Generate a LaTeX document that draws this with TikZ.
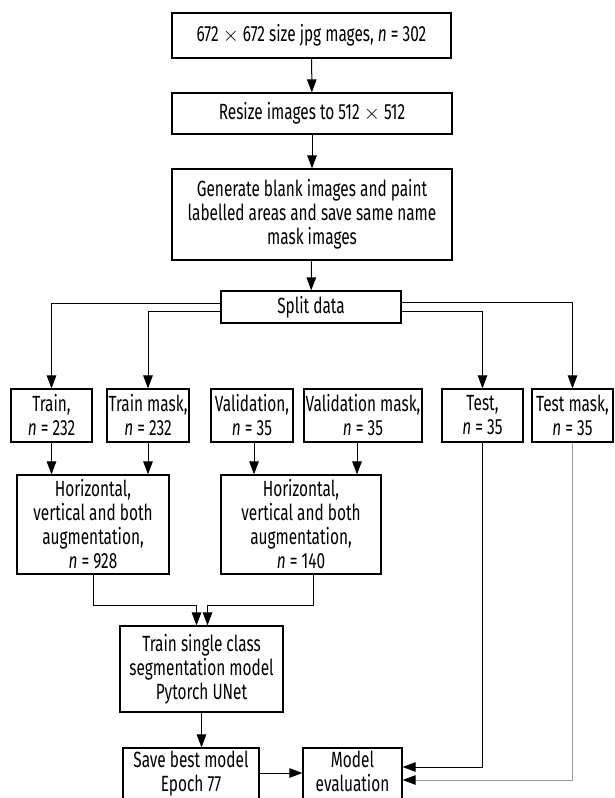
\documentclass[tikz,border=0pt]{standalone}
\usepackage{fontspec}
\setmainfont[FakeStretch=0.7]{Fira Sans}
\usepackage{tikz}
\usetikzlibrary{arrows.meta}

\begin{document}
\begin{tikzpicture}[x=1pt,y=-1pt,
	box/.style={draw,line width=1.2pt,align=center,inner sep=1pt,font=\fontsize{22}{24}\selectfont},
	arr/.style={line width=1pt,-{Triangle[length=13pt,width=9.5pt,black]}},
	wire/.style={line width=1pt}]
	\useasboundingbox (0,0) rectangle (615,798);
	\clip (0,0) rectangle (615,798);
	\node[box,minimum width=279pt,minimum height=45pt] (img) at (311.5,35.5) {672 $\times$ 672 size jpg mages, \textit{n} = 302};
	\node[box,minimum width=280pt,minimum height=41pt] (resize) at (312,113.5) {Resize images to 512 $\times$ 512};
	\node[box,minimum width=280pt,minimum height=91pt] (gen) at (312,214.5) {Generate blank images and paint\\labelled areas and save same name\\mask images};
	\node[box,minimum width=180pt,minimum height=32pt] (split) at (311,307) {Split data};
	\node[box,minimum width=81pt,minimum height=53pt] (train) at (51.5,415.5) {Train,\\\textit{n} = 232};
	\node[box,minimum width=82pt,minimum height=53pt] (trainmask) at (148,415.5) {Train mask,\\\textit{n} = 232};
	\node[box,minimum width=82pt,minimum height=53pt] (val) at (252,415.5) {Validation,\\\textit{n} = 35};
	\node[box,minimum width=118pt,minimum height=53pt] (valmask) at (363,415.5) {Validation mask,\\\textit{n} = 35};
	\node[box,minimum width=81pt,minimum height=53pt] (test) at (482.5,415.5) {Test,\\\textit{n} = 35};
	\node[box,minimum width=81pt,minimum height=53pt] (testmask) at (572.5,415.5) {Test mask,\\\textit{n} = 35};
	\node[box,minimum width=152pt,minimum height=99pt] (augA) at (93,524.5) {Horizontal,\\vertical and both\\augmentation,\\\textit{n} = 928};
	\node[box,minimum width=160pt,minimum height=99pt] (augB) at (301,524.5) {Horizontal,\\vertical and both\\augmentation,\\\textit{n} = 140};
	\node[box,minimum width=163pt,minimum height=86pt] (unet) at (201.5,669) {Train single class\\segmentation model\\Pytorch UNet};
	\node[box,minimum width=136pt,minimum height=54pt,text depth=8pt] (save) at (191,775) {Save best model\\Epoch 77};
	\node[box,minimum width=99pt,minimum height=54pt,text depth=8pt] (eval) at (352.5,775) {Model\\evaluation};
	\draw[arr] (img) -- (resize);
	\draw[arr] (resize) -- (gen);
	\draw[arr] (gen) -- (split);
	\draw[arr] ([yshift=4pt]split.west) -| (train.north);
	\draw[arr] ([yshift=-4pt]split.west) -| (trainmask.north);
	\draw[arr] ([yshift=-4pt]split.east) -| (test.north);
	\draw[arr] ([yshift=5pt]split.east) -| (testmask.north);
	\draw[arr] (train.south) -- (train.south |- augA.north);
	\draw[arr] (trainmask.south) -- (trainmask.south |- augA.north);
	\draw[arr] ([xshift=2pt]val.south) -- ([xshift=2pt]val.south |- augB.north);
	\draw[arr] ([xshift=-6pt]valmask.south) -- ([xshift=-6pt]valmask.south |- augB.north);
	\draw[arr] (augA.south) -- ++(0,31) -| ([xshift=-5pt]unet.north);
	\draw[arr] ([xshift=12pt]augB.south) -- ++(0,31) -| ([xshift=6pt]unet.north);
	\draw[arr] (unet.south) -- (unet.south |- save.north);
	\draw[arr] ([yshift=2pt]save.east) -- ([yshift=2pt]eval.west);
	\draw[arr] (test.south) |- ([yshift=8pt]eval.east);
	\draw[arr,gray!80] (testmask.south) |- ([yshift=-5pt]eval.east);
\end{tikzpicture}
\end{document}
